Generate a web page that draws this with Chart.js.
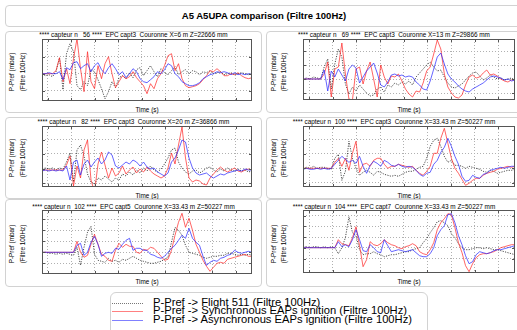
<!DOCTYPE html>
<html><head><meta charset="utf-8">
<script src="https://cdn.jsdelivr.net/npm/chart.js@4.4.1/dist/chart.umd.min.js"></script>
<style>
html,body{margin:0;padding:0;background:#fff;}
body{width:517px;height:330px;overflow:hidden;position:relative;font-family:"Liberation Sans",Arial,Helvetica,sans-serif;color:#000;}
.box{position:absolute;border:1px solid #d2d2d2;border-radius:4px;box-sizing:border-box;background:#fff;}
.txt{position:absolute;white-space:pre;transform:translate(-50%,-50%);line-height:1;}
.small{font-size:6.4px;color:#000;}
.ylab{position:absolute;white-space:pre;line-height:1;font-size:6.4px;color:#000;transform:translate(-50%,-50%) rotate(-90deg);}
.title{font-size:9.5px;font-weight:bold;}
.leg{position:absolute;white-space:pre;font-size:11.2px;line-height:1;transform:translateY(-50%);}
.sample{position:absolute;width:31px;height:0;}
canvas{position:absolute;}
</style>
</head><body>
<script>
// ---------- data ----------
const TIME = [0,1,2,3,4,5,6,7,8,9,10,11,12,13,14,15,16,17,18,19,20,21,22,23,24,25,26,27,28,29,30,31,32,33,34,35,36,37,38,39,40,41,42,43,44,45,46,47,48,49,50,51,52,53,54,55,56,57,58,59,60];
const X_GRID = [1.7, 8.4, 15.1, 21.8, 28.5, 35.2, 41.9, 48.6, 55.3];

const SUBTITLES = [
  "**** capteur n   56 ****  EPC capt3  Couronne X=6 m Z=22666 mm",
  "**** capteur n   69 ****  EPC capt3  Couronne X=13 m Z=29866 mm",
  "**** capteur n   82 ****  EPC capt3  Couronne X=20 m Z=36866 mm",
  "**** capteur n  100 ****  EPC capt3  Couronne X=33.43 m Z=50227 mm",
  "**** capteur n  102 ****  EPC capt5  Couronne X=33.43 m Z=50227 mm",
  "**** capteur n  104 ****  EPC capt7  Couronne X=33.43 m Z=50227 mm"
];
const SERIES_NAMES = [
  "P-Pref -> Flight 511 (Filtre 100Hz)",
  "P-Pref -> Synchronous EAPs ignition (Filtre 100Hz)",
  "P-Pref -> Asynchronous EAPs ignition (Filtre 100Hz)"
];
const MAIN_TITLE = "A5 A5UPA comparison (Filtre 100Hz)";
const Y_TITLE_1 = "P-Pref (mbar)";
const Y_TITLE_2 = "(Filtre 100Hz)";
const X_TITLE = "Time (s)";

const FLIGHT_56 = [0,-2,-1,-3,2, 16,-16,20,30,22, -12,-16,-8,-12,4, 2,-6,-15,-25,-18, -8,-14,-4,-2,-5, 1,-4,4,6,-2, 3,8,2,-3,5, 1,-1,3,7,-1, 2,4,0,3,2, -1,2,1,3,0, 1,2,-1,0,1, -1,0,1,0,-1, 0];
const SYNC_56   = [0,0,0,0,3, 16,-8,5,-10,15, 35,5,-18,22,-8, -15,8,-5,10,17, 0,-14,-8,-2,-5, -3,2,-4,-8,-12, -20,-10,-15,-5,0, 8,18,20,3,10, -5,-12,-14,-13,-12, -10,-6,-2,3,2, 5,2,-2,-2,0, -1,1,-2,-4,-5, -4];
const ASYNC_56  = [0,0,1,0,0, 2,-6,6,4,11, 12,5,8,10,2, 8,11,4,0,6, 10,5,-1,2,-4, 0,5,2,-5,-8, -9,-6,-3,2,0, 4,10,8,0,-3, -8,-10,-12,-12,-11, -9,-5,-3,-1,0, 2,1,2,1,-1, 1,-1,0,-1,0, -1];

const FLIGHT_69 = [0,1,0,2,1, 0,12,20,-10,15, 30,22,-5,-15,-8, -12,-6,-10,-14,-17, -16,-10,-8,-13,-6, -8,-4,-6,-3,-5, -2,-6,2,6,10, 14,17,12,8,9, 2,-4,-8,-9,-7, -5,-1,3,6,7, 3,-1,1,4,2, 0,1,-1,0,1, -1];
const SYNC_69   = [0,0,0,0,0, 0,5,17,-18,10, 12,36,5,-20,-21, 10,12,-5,8,17, 0,-18,14,2,-5, 3,2,5,-2,-10, -15,-18,-12,-13,-4, 8,12,25,39,30, 5,-8,-14,-18,-19, -16,-6,2,4,1, 2,6,9,4,5, 3,0,-2,-3,-1, -1];
const ASYNC_69  = [0,0,0,0,0, 0,9,-12,8,2, 10,4,-2,10,14, 11,-4,2,8,12, 16,6,-6,-8,-3, 4,5,3,4,2, 3,2,-3,-6,-10, -11,-2,10,22,26, 15,5,0,-3,-7, -10,-12,-13,-10,-8, -6,-4,-1,2,3, 2,1,-1,0,-2, -1];

const FLIGHT_82 = [1,2,1,2,0, 2,1,8,17,-12, 20,25,14,-4,-12, -14,-8,-10,-6,-9, -12,-8,-10,-4,-6, -2,-5,0,-3,2, -1,4,0,-2,1, 6,12,20,22,8, 2,-2,-4,-1,0, -3,-1,2,3,0, -2,1,-1,2,0, -1,1,-1,0,-2, -1];
const SYNC_82   = [0,0,0,0,0, 0,0,5,14,-16, 4,-8,20,30,-10, -22,6,18,5,-8, 2,-6,-3,4,-4, 0,3,-3,1,-2, 3,-1,-4,-6,-8, -6,2,17,6,25, 43,12,-8,-12,-10, -11,-14,-15,-8,-4, 0,3,0,-2,0, 2,-1,-2,0,1, 0];
const ASYNC_82  = [-1,0,-1,0,-1, 0,-1,4,-10,8, 10,-5,6,10,3, 8,12,6,10,18, 15,4,2,5,8, 6,10,8,4,8, 3,1,2,-2,-4, -6,-3,8,12,20, 30,28,12,2,-3, -5,-4,-3,-6,-8, -6,-4,-5,-3,-2, -1,0,-1,1,0, 0];

const FLIGHT_100 = [0,1,0,2,0, 1,1,0,-1,10, 14,-12,-3,27,10, 0,-7,-4,-2,-4, -7,-3,-4,-6,-7, -8,-7,-8,-6,-4, -3,-3,-1,1,2, 10,22,28,30,22, 12,6,8,3,3, 2,0,2,1,0, -1,-3,-4,-2,-3, -5,-4,-3,-2,-2, -1];
const SYNC_100   = [0,0,0,0,0, 0,0,0,0,6, 10,2,10,-2,15, 27,-4,4,5,2, 8,10,10,4,0, 2,2,4,3,2, 1,2,-2,-5,-7, -3,2,15,15,30, 40,25,10,0,-5, -11,-17,-15,-12,-10, -10,-7,-5,-4,-3, -1,0,1,2,1, 2];
const ASYNC_100  = [-1,0,-1,-1,0, -1,0,-1,0,4, 8,12,9,6,8, 5,12,2,-5,3, 7,5,2,8,6, 3,2,4,2,1, 2,1,-2,-6,-8, -5,-4,4,8,16, 21,30,22,12,4, -8,-13,-12,-7,-9, -10,-6,-5,-2,-1, 0,1,0,1,2, 2];

const FLIGHT_102 = [0,0,-1,-1,-2, -1,-2,-1,-2,-3, 5,-13,5,20,26, -2,-8,-9,-10,-6, -9,-8,-10,-7,-8, -6,-4,-6,-8,-9, -10,-11,-11,-10,-9, -7,-5,10,25,22, 17,7,0,-1,-2, -3,-5,-6,-5,-4, -4,-3,-3,-1,-1, -2,-3,-2,-3,-2, -3];
const SYNC_102   = [0,0,0,0,0, 0,0,0,0,0, 11,0,-5,-3,8, 18,8,-2,-4,-8, -9,2,9,5,8, 6,6,0,-1,3, 2,5,4,0,-4, -8,-7,2,17,30, 39,25,34,22,8, 0,-8,-14,-19,-15, -11,-10,-11,-7,-6, -5,-4,-3,-2,-4, -4];
const ASYNC_102  = [0,0,0,0,0, 0,0,0,0,0, 7,9,-3,0,10, 16,8,-4,-1,0, -1,4,3,8,12, 14,2,4,4,2, 2,-2,-3,-5,-6, -4,0,4,7,12, 17,14,24,14,10, 7,-4,-13,-10,-8, -9,-6,-5,-3,-2, 2,0,-1,0,1, 0];

const FLIGHT_104 = [1,1,0,1,1, 0,1,0,1,0, -6,0,10,31,15, 12,-2,-7,-6,-6, -4,-6,-7,-9,-8, -7,-7,-6,-5,-4, -4,-2,-1,0,5, 9,15,20,26,27, 25,22,14,10,4, 0,-2,-2,-1,0, 0,-1,0,-1,-2, -2,-3,-4,-5,-6, -7];
const SYNC_104   = [0,0,0,0,0, 0,0,0,0,0, 8,4,3,2,10, 21,2,-19,-12,6, 3,2,4,8,5, 3,2,0,-1,1, 2,4,2,-4,-6, -7,-2,5,18,25, 29,34,33,20,5, -5,-18,-24,-16,-10, -7,-6,-6,-5,-4, -2,0,1,2,3, 3];
const ASYNC_104  = [0,0,0,0,0, 0,0,0,0,0, 6,1,3,1,8, 18,8,-3,-4,3, 0,-4,-5,8,2, -4,-3,-2,-3,-4, -3,-2,-5,-8,-9, -9,-6,0,12,18, 22,33,34,25,12, 3,-8,-16,-14,-7, -4,-5,-6,-5,-3, -2,-2,-1,0,1, 2];

const FLIGHT = [FLIGHT_56, FLIGHT_69, FLIGHT_82, FLIGHT_100, FLIGHT_102, FLIGHT_104];
const SYNC   = [SYNC_56, SYNC_69, SYNC_82, SYNC_100, SYNC_102, SYNC_104];
const ASYNC  = [ASYNC_56, ASYNC_69, ASYNC_82, ASYNC_100, ASYNC_102, ASYNC_104];

const Y_MIN  = [-27.3, -21, -17, -18.7, -21.7, -25.3];
const Y_MAX  = [34.7, 40, 44, 42.3, 42.3, 37.7];
const Y_GRID = [[-17,0,17], [-14,0,14,28], [-13,1.5,16,30.5], [-14.4,0,14.4,28.8], [-11,0,11,22,33], [-11,0,10.7,21.4,32.1]];

// ---------- layout / style ----------
const COLORS = {flight:'rgba(20,20,20,0.85)', sync:'rgba(255,40,40,0.8)', async:'rgba(40,40,255,0.8)', grid:'#b0b0b0', frame:'#555'};
const PANELS = [
  {box:[5,31,257,82],   plot:[42,39,210,62],  subY:35,    timeY:110,   labY:72,  lab:[12,22.5]},
  {box:[266,31,256,82], plot:[303,39,212,61], subY:35,    timeY:110,   labY:72,  lab:[273.5,284]},
  {box:[5,117,257,82],  plot:[42,126,210,61], subY:121.5, timeY:196,   labY:158, lab:[12,22.5]},
  {box:[266,117,256,82],plot:[303,126,212,61],subY:121.5, timeY:196,   labY:158, lab:[273.5,284]},
  {box:[5,199,257,88],  plot:[42,210,210,64], subY:206.5, timeY:282,   labY:244, lab:[12,22.5]},
  {box:[266,199,256,88],plot:[303,210,212,63],subY:206.5, timeY:282,   labY:244, lab:[273.5,284]}
];

function el(tag, cls, css, text){
  const e = document.createElement(tag);
  if (cls) e.className = cls;
  Object.assign(e.style, css || {});
  if (text !== undefined) e.textContent = text;
  document.body.appendChild(e);
  return e;
}

const framePlugin = {
  id:'frame',
  afterDatasetsDraw(chart){
    const {ctx, chartArea:a, scales} = chart;
    ctx.save();
    ctx.setLineDash([]);
    ctx.strokeStyle = COLORS.frame; ctx.lineWidth = 1;
    ctx.strokeRect(a.left+0.5, a.top+0.5, a.width-1, a.height-1);
    ctx.beginPath();
    X_GRID.forEach(v => {
      const x = Math.round(scales.x.getPixelForValue(v)) + 0.5;
      ctx.moveTo(x, a.bottom); ctx.lineTo(x, a.bottom-3);
      ctx.moveTo(x, a.top); ctx.lineTo(x, a.top+3);
    });
    chart.options.scales.y._grid.forEach(v => {
      const y = Math.round(scales.y.getPixelForValue(v)) + 0.5;
      ctx.moveTo(a.left, y); ctx.lineTo(a.left+3, y);
      ctx.moveTo(a.right, y); ctx.lineTo(a.right-3, y);
    });
    ctx.stroke();
    ctx.restore();
  }
};

function series(vals, label, color, dash, order, width){
  return {label, data: vals.map((v,i)=>({x:TIME[i], y:v})), borderColor:color, borderWidth:width,
    borderDash:dash, pointRadius:0, tension:0, fill:false, order};
}

// main title
el('div','box',{left:'5px',top:'5px',width:'518px',height:'22px'});
el('div','txt title',{left:'264px',top:'16px'}, MAIN_TITLE);

PANELS.forEach((p,k)=>{
  const [bx,by,bw,bh] = p.box, [px,py,pw,ph] = p.plot;
  el('div','box',{left:bx+'px',top:by+'px',width:bw+'px',height:bh+'px'});
  el('div','txt small',{left:(bx+bw/2)+'px',top:p.subY+'px'}, SUBTITLES[k]);
  el('div','ylab',{left:p.lab[0]+'px',top:p.labY+'px'}, Y_TITLE_1);
  el('div','ylab',{left:p.lab[1]+'px',top:p.labY+'px'}, Y_TITLE_2);
  el('div','txt small',{left:(px+pw/2)+'px',top:p.timeY+'px'}, X_TITLE);
  const cv = el('canvas', null, {left:px+'px',top:py+'px',width:pw+'px',height:ph+'px'});
  cv.width = pw; cv.height = ph;
  const yGrid = Y_GRID[k];
  new Chart(cv, {
    type:'line',
    data:{datasets:[
      series(FLIGHT[k], SERIES_NAMES[0], COLORS.flight, [1.2,1.3], 3, 0.9),
      series(SYNC[k],   SERIES_NAMES[1], COLORS.sync,   [], 2, 0.9),
      series(ASYNC[k],  SERIES_NAMES[2], COLORS.async,  [], 1, 0.9)
    ]},
    options:{
      responsive:false, animation:false, devicePixelRatio:1,
      layout:{padding:0},
      plugins:{legend:{display:false}, tooltip:{enabled:false}, title:{display:false}},
      scales:{
        x:{type:'linear', min:0, max:60,
           afterBuildTicks: ax => { ax.ticks = X_GRID.map(v=>({value:v})); },
           ticks:{display:false}, grid:{color:COLORS.grid, lineWidth:1, drawTicks:false},
           border:{display:false, dash:[1,2]}},
        y:{type:'linear', min:Y_MIN[k], max:Y_MAX[k], _grid:yGrid,
           afterBuildTicks: ax => { ax.ticks = yGrid.map(v=>({value:v})); },
           ticks:{display:false}, grid:{color:COLORS.grid, lineWidth:1, drawTicks:false},
           border:{display:false, dash:[1,2]}}
      }
    },
    plugins:[framePlugin]
  });
});

// legend
el('div','box',{left:'110px',top:'292px',width:'318px',height:'46px',borderRadius:'6px'});
const LEG_Y = [302.7, 311.3, 320];
const LEG_STYLE = ['1px dotted #777', '1px solid #ff8080', '1px solid #8080ff'];
SERIES_NAMES.forEach((name,i)=>{
  el('div','sample',{left:'112px',top:(LEG_Y[i])+'px',borderTop:LEG_STYLE[i]});
  el('div','leg',{left:'153px',top:(LEG_Y[i])+'px'}, name);
});
</script>
</body></html>
